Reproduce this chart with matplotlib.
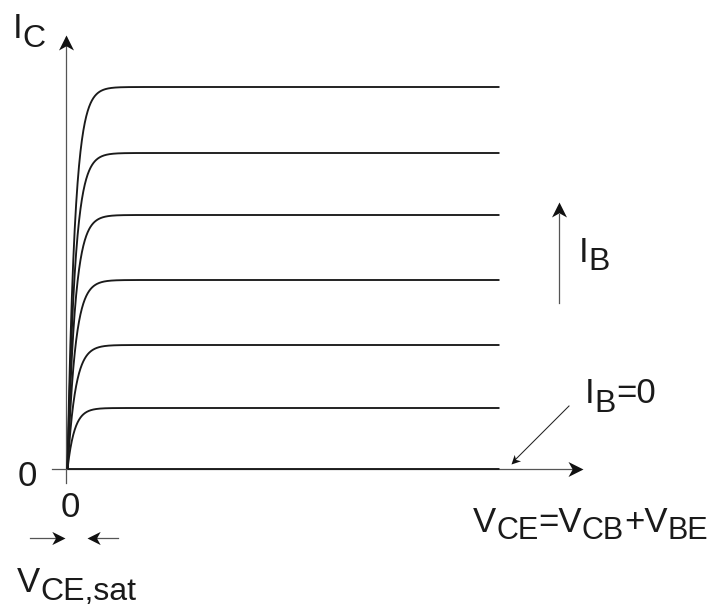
import numpy as np
import matplotlib
matplotlib.use("Agg")
import matplotlib.pyplot as plt
from matplotlib.path import Path
from matplotlib.markers import MarkerStyle
from matplotlib.transforms import Affine2D, offset_copy

# ---- data (units: arbitrary, 1 unit ~ 1 px of the reference) ----
ic_sat = [382, 316, 254, 189, 124, 61, 0]          # saturation currents of the I_B family
v_tau = [7.3, 7.5, 7.5, 7.6, 7.8, 7.0, 1.0]        # knee time-constant of each curve
vce_max = 432

plt.rcParams['font.family'] = ['Liberation Sans', 'DejaVu Sans']

fig = plt.figure(figsize=(7.2, 6.07), dpi=100)
ax = fig.add_axes([0, 0, 1, 1])
ax.set_xlim(-66, 654)
ax.set_ylim(-138, 469)
ax.axis('off')

AX_COLOR = '#555555'

# stealth arrow head marker, tip at origin pointing +x
_head = Path([(0, 0), (-1, 0.5), (-0.72, 0), (-1, -0.5), (0, 0)],
             [Path.MOVETO, Path.LINETO, Path.LINETO, Path.LINETO, Path.CLOSEPOLY])


def head(x, y, angle, size=21.6, color='#111111'):
    m = MarkerStyle(_head, transform=Affine2D().rotate_deg(angle))
    ax.plot([x], [y], marker=m, markersize=size, color=color,
            markeredgewidth=0, linestyle='none', zorder=5)


# axes
ax.plot([-14, 514], [0, 0], color=AX_COLOR, lw=0.9, zorder=1)
ax.plot([0, 0], [-14, 432], color=AX_COLOR, lw=0.9, zorder=1)
head(517, 0, 0)
head(0, 434, 90)

# characteristic curves
for isat, tau in zip(ic_sat, v_tau):
    v = np.linspace(0, vce_max, 1500)
    i = isat * (1 - np.exp(-v / tau))
    ax.plot(v + 1.5, i, color='#1a1a1a', lw=1.35, zorder=3, solid_capstyle='butt')

# I_B direction arrow
ax.plot([493, 493], [166, 255], color=AX_COLOR, lw=0.9)
head(493, 267, 90)

# I_B = 0 pointer
ax.plot([503, 449], [63, 9], color='#222222', lw=0.75)
head(445, 5, 225, size=13)

# V_CE,sat arrows
ax.plot([-36, -8], [-69, -69], color=AX_COLOR, lw=0.9)
head(-1, -69, 0, size=19)
ax.plot([28, 52], [-69, -69], color=AX_COLOR, lw=0.9)
head(21, -69, 180, size=19)


def rich(x_px, base_px, pieces):
    """pieces: (text, dy_px, size) ; x_px / base_px in reference pixel coords"""
    fig.canvas.draw()
    r = fig.canvas.get_renderer()
    x = x_px - 66
    y = 469 - base_px
    trans = ax.transData
    for s, dy, size in pieces:
        t = ax.text(x, y, s, fontsize=size, ha='left', va='baseline',
                    color='#1a1a1a',
                    transform=offset_copy(trans, fig=fig, y=-dy * 72 / 100, units='points'))
        bb = t.get_window_extent(renderer=r)
        x += bb.width


M, S = 25, 23
rich(13, 38, [('I', 0, M), ('C', 9, S)])
ax.text(17.5 - 66, 469 - 486, '0', fontsize=M, ha='left', va='baseline', color='#1a1a1a')
ax.text(60.5 - 66, 469 - 517, '0', fontsize=M, ha='left', va='baseline', color='#1a1a1a')
rich(17, 592, [('V', 0, M), ('CE,sat', 8, S)])
rich(473, 532, [('V', 0, M), ('CE', 7, 22), ('=V', 0, M), ('CB', 7, 22),
                ('+V', 0, M), ('BE', 7, 22)])
rich(579, 262, [('I', 0, M), ('B', 8, S)])
rich(585, 403, [('I', 0, M), ('B', 9, S), ('=0', 0, M)])

fig.savefig('out.png', dpi=100)
